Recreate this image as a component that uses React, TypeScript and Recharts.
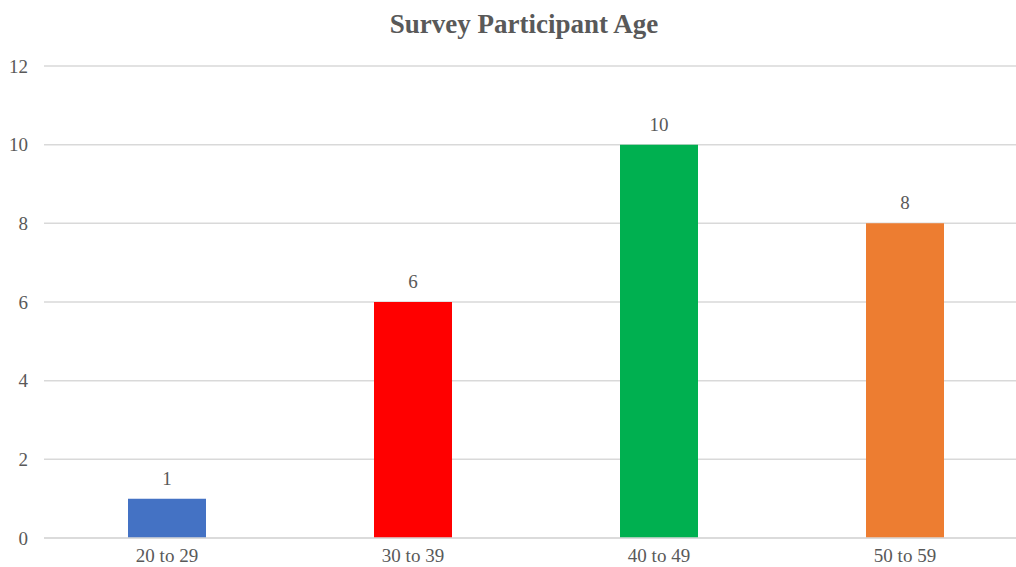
import { Bar, BarChart, CartesianGrid, Cell, LabelList, XAxis, YAxis } from 'recharts'

const ageGroups = ['20 to 29', '30 to 39', '40 to 49', '50 to 59']
const participants = [1, 6, 10, 8]
const barColors = ['#4472c4', '#ff0000', '#00b050', '#ed7d31']
const yTicks = [0, 2, 4, 6, 8, 10, 12]

const data = ageGroups.map((group, i) => ({ group, count: participants[i] }))

const font = 'Liberation Serif, DejaVu Serif, serif'
const textGray = '#595959'

export default function App() {
  return (
    <div style={{ position: 'fixed', left: 0, top: 0, width: 1016, height: 567, overflow: 'hidden', background: '#fff', fontFamily: font }}>
      <BarChart
        width={1072}
        height={567}
        data={data}
        margin={{ top: 66, right: 44, bottom: 0, left: 0 }}
      >
        <text
          x={524}
          y={33}
          textAnchor="middle"
          style={{ fontFamily: font }}
          fontSize={27}
          fontWeight="bold"
          fill={textGray}
        >
          Survey Participant Age
        </text>
        <CartesianGrid vertical={false} stroke="#d9d9d9" strokeWidth={1.5} />
        <XAxis
          dataKey="group"
          height={29}
          tickLine={false}
          tickSize={0}
          tickMargin={11}
          axisLine={{ stroke: '#d9d9d9', strokeWidth: 1.5 }}
          tick={{ fill: textGray, fontSize: 19, style: { fontFamily: font } }}
        />
        <YAxis
          width={44}
          domain={[0, 12]}
          ticks={yTicks}
          tickLine={false}
          tickSize={0}
          tickMargin={16}
          axisLine={false}
          tick={{ fill: textGray, fontSize: 19, style: { fontFamily: font } }}
        />
        <Bar dataKey="count" barSize={78} isAnimationActive={false}>
          {data.map((d, i) => (
            <Cell key={d.group} fill={barColors[i]} />
          ))}
          <LabelList
            dataKey="count"
            position="top"
            offset={14}
            fill={textGray}
            fontSize={19}
            style={{ fontFamily: font }}
          />
        </Bar>
      </BarChart>
    </div>
  )
}
